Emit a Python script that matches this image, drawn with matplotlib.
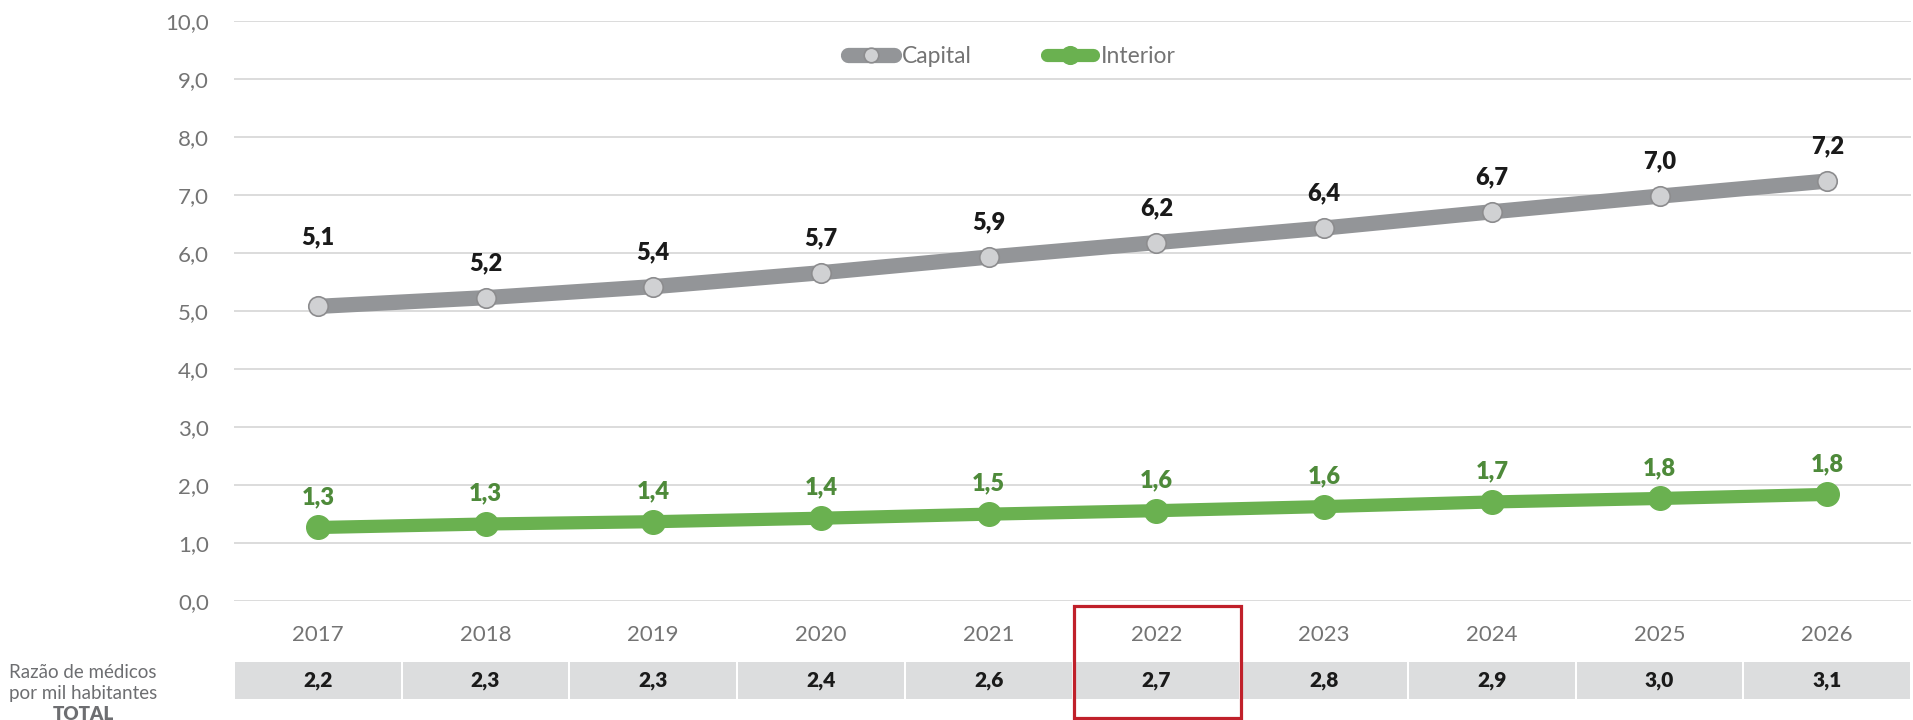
import matplotlib.pyplot as plt
import matplotlib.transforms as mtransforms
from matplotlib.patches import Rectangle
from matplotlib.ticker import FuncFormatter

plt.rcParams['font.family'] = ['Lato', 'DejaVu Sans']

anos = ['2017', '2018', '2019', '2020', '2021', '2022', '2023', '2024', '2025', '2026']
capital = [5.08, 5.23, 5.42, 5.66, 5.93, 6.18, 6.43, 6.71, 6.98, 7.24]
interior = [1.27, 1.33, 1.37, 1.43, 1.50, 1.56, 1.63, 1.71, 1.77, 1.84]
total = [2.2, 2.3, 2.3, 2.4, 2.6, 2.7, 2.8, 2.9, 3.0, 3.1]
ano_destaque = '2022'


def fmt(v):
    return f"{v:.1f}".replace('.', ',')


fig = plt.figure(figsize=(19.13, 7.2), dpi=100)
ax = fig.add_axes([0.1223, 0.165, 0.8767, 0.806])

x = list(range(len(anos)))

l_cap, = ax.plot(x, capital, color='#939598', lw=11, solid_capstyle='round',
                 marker='o', ms=14, mfc='#D0D1D3', mec='#8C8C8E', mew=1.2,
                 label='Capital', zorder=3)
l_int, = ax.plot(x, interior, color='#6AB150', lw=9.5, solid_capstyle='round',
                 marker='o', ms=17, mfc='#6AB150', mec='#6AB150',
                 label='Interior', zorder=3)

# rótulos de dados
for i, v in enumerate(capital):
    dy = 50 if i == 0 else 25
    ax.annotate(fmt(v), (i, v), xytext=(0, dy), textcoords='offset points',
                ha='center', va='center', fontsize=17, fontweight='heavy',
                color='#1A1A1A')
for i, v in enumerate(interior):
    ax.annotate(fmt(v), (i, v), xytext=(0, 22), textcoords='offset points',
                ha='center', va='center', fontsize=17, fontweight='heavy',
                color='#4E8A3A')

ax.set_xlim(-0.5, len(anos) - 0.5)
ax.set_ylim(0, 10)
ax.set_yticks(range(0, 11))
ax.yaxis.set_major_formatter(FuncFormatter(lambda v, p: fmt(v)))
ax.set_xticks(x)
ax.set_xticklabels(anos)
ax.tick_params(axis='y', length=0, pad=18, labelsize=16, labelcolor='#747474')
ax.tick_params(axis='x', length=0, pad=17, labelsize=16, labelcolor='#747474')
for s in ax.spines.values():
    s.set_visible(False)
ax.yaxis.grid(True, color='#D9D9D9', lw=1.3)
ax.set_axisbelow(True)

ax.legend(handles=[l_cap, l_int], loc='center', bbox_to_anchor=(0.464, 0.938),
          ncol=2, frameon=False, fontsize=16.5, labelcolor='#747474',
          handlelength=2.0, handletextpad=0.35, columnspacing=3.3,
          markerscale=0.75, numpoints=1)

# linha com o total por ano
trans = mtransforms.blended_transform_factory(ax.transData, ax.transAxes)
gap = 0.012
for i, t in enumerate(total):
    ax.add_patch(Rectangle((i - 0.5 + gap / 2, -0.169), 1 - gap, 0.064,
                           transform=trans, facecolor='#DCDDDE', edgecolor='none',
                           clip_on=False))
    ax.text(i, -0.137, fmt(t), transform=trans, ha='center', va='center',
            fontsize=15, fontweight='heavy', color='#1A1A1A')

# destaque do ano
k = anos.index(ano_destaque)
ax.add_patch(Rectangle((k - 0.49, -0.2017), 0.995, 0.193, transform=trans,
                       fill=False, edgecolor='#C0202A', lw=2.3, clip_on=False,
                       zorder=5))

fig.text(0.0434, 1 - 673 / 720, 'Razão de médicos', ha='center', va='center',
         fontsize=13.5, color='#6D6E71')
fig.text(0.0434, 1 - 694 / 720, 'por mil habitantes', ha='center', va='center',
         fontsize=13.5, color='#6D6E71')
fig.text(0.0434, 1 - 715 / 720, 'TOTAL', ha='center', va='center',
         fontsize=13.5, fontweight='heavy', color='#6D6E71')

fig.savefig('out.png', dpi=100)
